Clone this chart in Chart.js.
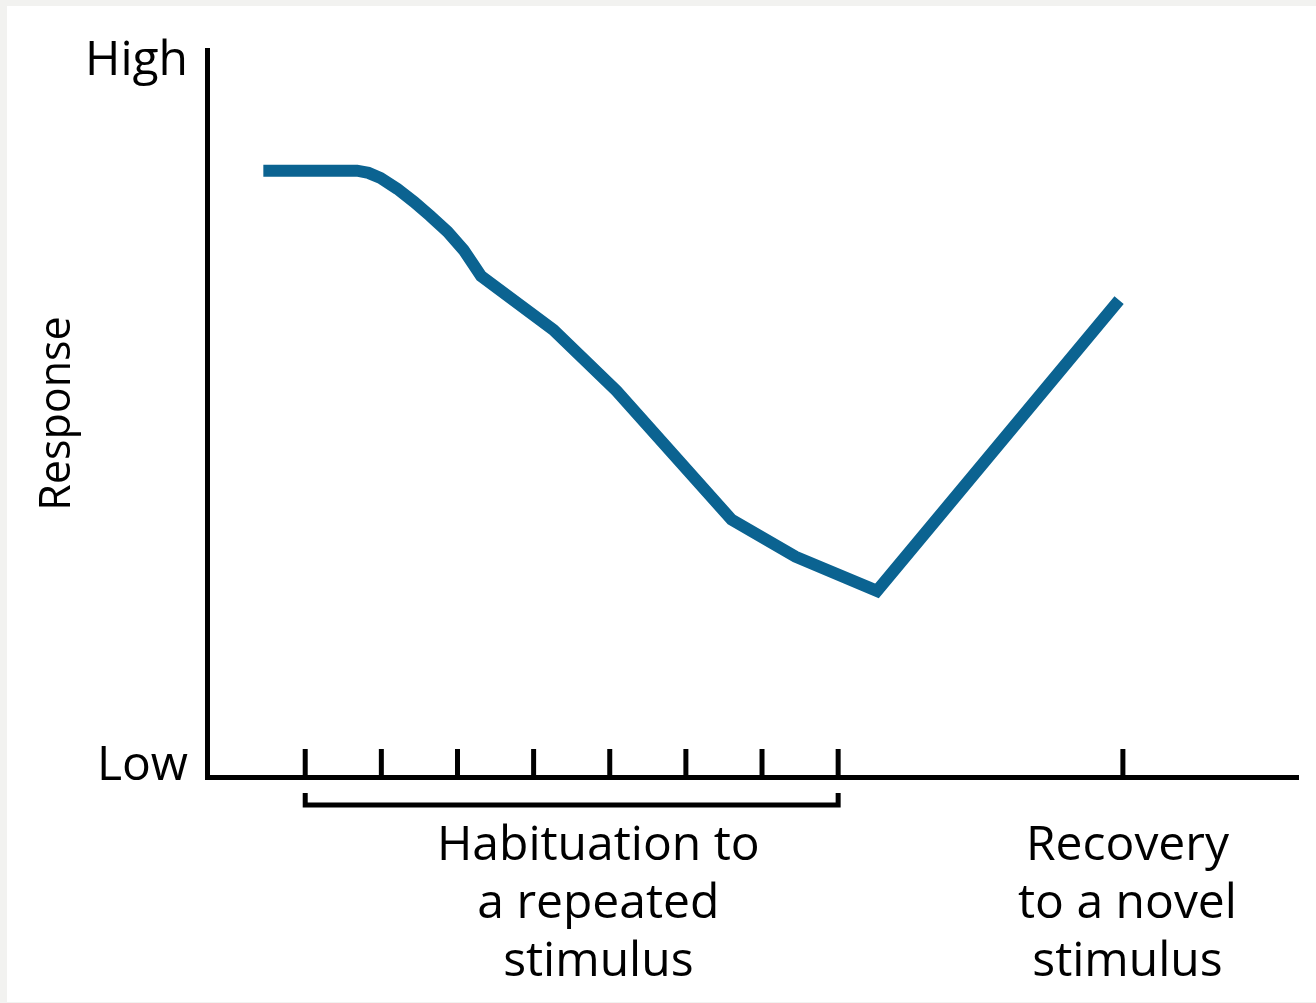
<!DOCTYPE html>
<html>
<head>
<meta charset="utf-8">
<title>Habituation and recovery</title>
<script src="https://cdn.jsdelivr.net/npm/chart.js@4/dist/chart.umd.min.js"></script>
<style>
  html, body { margin: 0; padding: 0; background: #f2f2f0; }
  #paper { position: absolute; left: 7px; top: 6px; width: 1309px; height: 996px; background: #fff; }
  #wrap { position: absolute; left: 0; top: 0; width: 1316px; height: 1003px; }
</style>
</head>
<body>
<div id="paper"></div>
<div id="wrap"><canvas id="habChart" width="1316" height="1003"></canvas></div>
<script>
// Response curve (x in trial units: tick 1..8 = repeated stimulus, ~11.74 = novel stimulus)
const curveX = [0.45, 1.68, 1.83, 1.99, 2.21, 2.43, 2.64, 2.87, 3.08, 3.19, 3.31, 4.26, 5.09, 6.60, 7.44, 8.51, 11.69];
const curveY = [83.4, 83.4, 83.1, 82.4, 80.9, 79.1, 77.2, 75.0, 72.5, 70.8, 68.9, 61.5, 53.1, 35.4, 30.3, 25.6, 65.6];

// Trial tick marks on the x-axis
const habituationTicks = [1, 2, 3, 4, 5, 6, 7, 8];
const recoveryTick = 11.74;

// Axis text
const yTickValues = [1.5, 98.5];
const yTickLabels = ['Low', 'High'];
const xLabelValues = [4.85, 11.8];
const xLabels = [
    ['Habituation to', 'a repeated', 'stimulus'],
    ['Recovery', 'to a novel', 'stimulus']
];

const FONT = '"Open Sans", "Noto Sans", sans-serif';
const LINE_BLUE = '#0b6391';

/**
 * Draws the upward tick marks and the bracket under the habituation trials
 */
const trialMarks = {
    id: 'trialMarks',
    afterDraw(chart) {
        const ctx = chart.ctx;
        const x = chart.scales.x;
        const yBase = chart.scales.y.getPixelForValue(0);

        ctx.save();
        ctx.strokeStyle = '#000';
        ctx.lineWidth = 5;
        ctx.lineCap = 'butt';

        // tick marks pointing up into the plot
        [...habituationTicks, recoveryTick].forEach(v => {
            const px = x.getPixelForValue(v);
            ctx.beginPath();
            ctx.moveTo(px, yBase);
            ctx.lineTo(px, yBase - 28);
            ctx.stroke();
        });

        // bracket spanning the repeated stimulus trials
        const x1 = x.getPixelForValue(habituationTicks[0]);
        const x2 = x.getPixelForValue(habituationTicks[habituationTicks.length - 1]);
        ctx.lineJoin = 'miter';
        ctx.beginPath();
        ctx.moveTo(x1, yBase + 16);
        ctx.lineTo(x1, yBase + 28);
        ctx.lineTo(x2, yBase + 28);
        ctx.lineTo(x2, yBase + 16);
        ctx.stroke();
        ctx.restore();
    }
};

const ctx = document.getElementById('habChart').getContext('2d');
new Chart(ctx, {
    type: 'line',
    data: {
        datasets: [{
            data: curveX.map((v, i) => ({ x: v, y: curveY[i] })),
            borderColor: LINE_BLUE,
            borderWidth: 12,
            borderCapStyle: 'butt',
            borderJoinStyle: 'miter',
            pointRadius: 0,
            tension: 0,
            fill: false
        }]
    },
    options: {
        responsive: false,
        animation: false,
        events: [],
        layout: { padding: { left: 7, top: 50, right: 18, bottom: 0 } },
        plugins: {
            legend: { display: false },
            tooltip: { enabled: false }
        },
        scales: {
            x: {
                type: 'linear',
                min: -0.29,
                max: 14.04,
                grid: { display: false, drawTicks: false },
                border: { display: true, color: '#000', width: 5 },
                afterBuildTicks: s => { s.ticks = xLabelValues.map(v => ({ value: v })); },
                afterFit: s => { s.height = 226; },
                ticks: {
                    autoSkip: false,
                    maxRotation: 0,
                    padding: 41,
                    color: '#000',
                    font: { family: FONT, size: 48, lineHeight: 1.2 },
                    callback: (val, i) => xLabels[i]
                }
            },
            y: {
                type: 'linear',
                min: 0,
                max: 100,
                grid: { display: false, drawTicks: false },
                border: { display: true, color: '#000', width: 5 },
                afterBuildTicks: s => { s.ticks = yTickValues.map(v => ({ value: v })); },
                afterFit: s => { s.width = 200; },
                ticks: {
                    padding: 19,
                    color: '#000',
                    font: { family: FONT, size: 48 },
                    callback: (val, i) => yTickLabels[i]
                },
                title: {
                    display: true,
                    text: 'Response',
                    color: '#000',
                    padding: { top: 25, bottom: 0 },
                    font: { family: FONT, size: 43, lineHeight: 1.2 }
                }
            }
        }
    },
    plugins: [trialMarks]
});
</script>
</body>
</html>
